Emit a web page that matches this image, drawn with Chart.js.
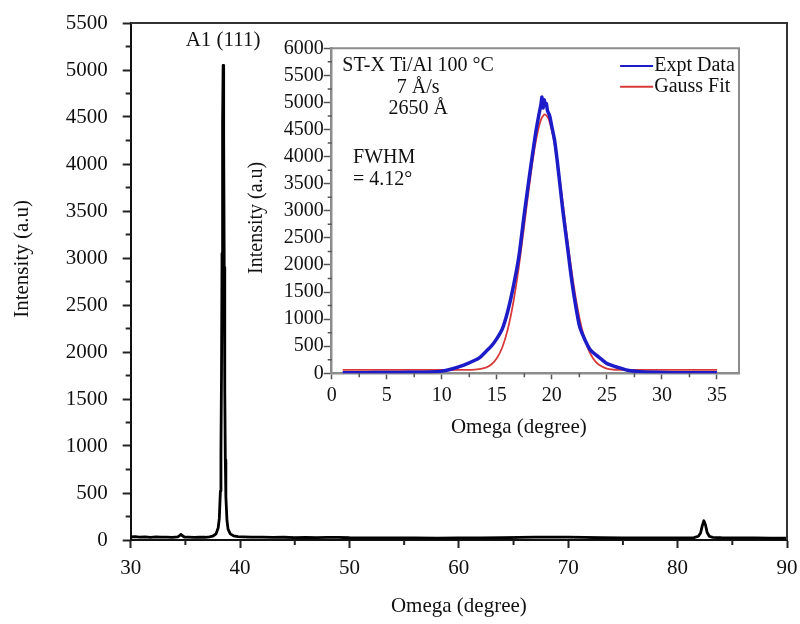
<!DOCTYPE html>
<html><head><meta charset="utf-8">
<script src="https://cdn.jsdelivr.net/npm/chart.js@4.4.0/dist/chart.umd.min.js"></script>
<style>
html,body{margin:0;padding:0;background:#fff;}
#wrap{position:relative;width:800px;height:624px;overflow:hidden;background:#fff;}
#main{position:absolute;left:0;top:0;}
#inset{position:absolute;left:245px;top:38px;}
</style></head><body>
<div id="wrap"><canvas id="main" width="800" height="624"></canvas><canvas id="inset" width="505" height="405"></canvas></div>
<script>
// ---------- main pattern (Omega scan, wide range) ----------
const mainOmega = [30, 30.4, 30.8, 31.3, 31.8, 32.3, 32.8, 33.3, 33.8, 34.3, 34.5, 34.6, 34.7, 34.9, 35.3, 35.8, 36.3, 36.8, 37.2, 37.5, 37.8, 38.0, 38.1, 38.2, 38.25, 38.3, 38.35, 38.4, 38.45, 38.5, 38.55, 38.6, 38.65, 38.7, 38.8, 38.9, 39.1, 39.4, 39.8, 40.3, 41, 42, 43, 44, 45, 46, 47, 48, 49, 50, 52, 54, 56, 58, 60, 62, 64, 65.5, 67, 68.5, 70, 71.5, 73, 75, 77, 79, 80.5, 81.5, 81.9, 82.1, 82.25, 82.4, 82.55, 82.7, 82.9, 83.2, 84, 85.5, 87, 88.5, 90];
const mainIntensity = [32, 35, 30, 34, 29, 33, 30, 31, 28, 33, 50, 60, 48, 32, 30, 28, 31, 29, 33, 40, 65, 130, 230, 520, 950, 1750, 3050, 4450, 5050, 4300, 2900, 1600, 850, 460, 210, 115, 65, 45, 36, 33, 30, 31, 27, 29, 26, 28, 25, 27, 28, 24, 23, 22, 22, 21, 22, 22, 24, 27, 30, 31, 30, 28, 24, 23, 22, 22, 23, 25, 40, 75, 150, 205, 160, 80, 40, 28, 24, 22, 22, 21, 21];
const mainXTicks = [30, 40, 50, 60, 70, 80, 90];
const mainYTicks = [0, 500, 1000, 1500, 2000, 2500, 3000, 3500, 4000, 4500, 5000, 5500];
const mainXTitle = 'Omega (degree)';
const mainYTitle = 'Intensity (a.u)';
const peakLabel = 'A1 (111)';

// ---------- inset: rocking curve ----------
const exptOmega = [1, 3, 5, 7, 9, 10, 11, 12, 13, 13.5, 14, 14.5, 15, 15.5, 16, 16.5, 17, 17.5, 18, 18.5, 18.8, 19.0, 19.1, 19.2, 19.3, 19.4, 19.5, 19.6, 19.8, 20, 20.25, 20.5, 20.75, 21, 21.25, 21.5, 21.75, 22, 22.5, 23, 23.5, 24, 24.5, 25, 25.5, 26, 27, 28, 29, 30, 32, 35];
const exptIntensity = [10, 12, 15, 18, 25, 40, 85, 150, 240, 300, 400, 500, 640, 820, 1150, 1600, 2150, 2950, 3700, 4400, 4750, 4950, 5100, 4900, 5050, 4950, 4980, 4850, 4750, 4550, 4300, 3900, 3450, 3000, 2600, 2200, 1800, 1450, 880, 620, 430, 340, 260, 180, 140, 110, 50, 30, 20, 15, 10, 8];
const fitOmega = [1, 5, 10, 12, 13, 14, 14.5, 15, 15.5, 16, 16.5, 17, 17.5, 18, 18.5, 19, 19.37, 19.75, 20.25, 20.75, 21.25, 21.75, 22.25, 22.75, 23.25, 23.75, 24.25, 25, 26, 28, 35];
const fitIntensity = [62, 62, 62, 62, 67, 105, 163, 277, 480, 815, 1308, 1966, 2744, 3546, 4237, 4676, 4780, 4671, 4225, 3532, 2728, 1953, 1297, 806, 475, 273, 161, 88, 64, 62, 62];
const insetXTicks = [0, 5, 10, 15, 20, 25, 30, 35];
const insetYTicks = [0, 500, 1000, 1500, 2000, 2500, 3000, 3500, 4000, 4500, 5000, 5500, 6000];
const seriesNames = ['Expt Data', 'Gauss Fit'];
const sampleNotes = ['ST-X Ti/Al 100 °C', '7 Å/s', '2650 Å'];
const fwhmNotes = ['FWHM', '= 4.12°'];
const insetXTitle = 'Omega (degree)';
const insetYTitle = 'Intensity (a.u)';

const SERIF = "'Liberation Serif','Times New Roman',serif";
const toPts = (xs, ys) => xs.map((x, i) => ({x, y: ys[i]}));
const plain = v => String(v);
const noPad = s => { s.paddingLeft = 0; s.paddingRight = 0; s.paddingTop = 0; s.paddingBottom = 0; };

function drawMinor(chart, id, step, len, color, width) {
  const s = chart.scales[id], ctx = chart.ctx, ca = chart.chartArea;
  ctx.save(); ctx.strokeStyle = color; ctx.lineWidth = width; ctx.beginPath();
  for (let v = s.min; v <= s.max + 1e-9; v += step) {
    if (s.ticks.some(t => Math.abs(t.value - v) < 1e-6)) continue;
    const p = s.getPixelForValue(v);
    if (s.isHorizontal()) { ctx.moveTo(p, ca.bottom); ctx.lineTo(p, ca.bottom + len); }
    else { ctx.moveTo(ca.left, p); ctx.lineTo(ca.left - len, p); }
  }
  ctx.stroke(); ctx.restore();
}
function text(ctx, str, x, y, size, align, rot) {
  ctx.save(); ctx.font = size + 'px ' + SERIF; ctx.fillStyle = '#111';
  ctx.textAlign = align || 'center'; ctx.textBaseline = 'middle';
  ctx.translate(x, y); if (rot) ctx.rotate(rot); ctx.fillText(str, 0, 0); ctx.restore();
}

const mainPlugin = {
  id: 'mainDecor',
  afterDraw(chart) {
    const ctx = chart.ctx, ca = chart.chartArea, xs = chart.scales.x, ys = chart.scales.y;
    drawMinor(chart, 'x', 5, 5, '#222', 2);
    drawMinor(chart, 'y', 250, 5, '#222', 2);
    ctx.save(); ctx.strokeStyle = '#333'; ctx.lineWidth = 2; ctx.beginPath();
    ctx.moveTo(ca.left, ca.top); ctx.lineTo(ca.right, ca.top); ctx.lineTo(ca.right, ca.bottom); ctx.stroke(); ctx.restore();
    text(ctx, mainYTitle, ca.left - 108, ys.getPixelForValue(2990), 21, 'center', -Math.PI / 2);
    text(ctx, mainXTitle, xs.getPixelForValue(60), ca.bottom + 66, 21, 'center');
    text(ctx, peakLabel, xs.getPixelForValue(38.45), ys.getPixelForValue(5310), 21, 'center');
  }
};

new Chart(document.getElementById('main'), {
  type: 'line',
  data: { datasets: [{ data: toPts(mainOmega, mainIntensity), borderColor: '#000', borderWidth: 2.8, borderJoinStyle: 'round', borderCapStyle: 'round', pointRadius: 0, tension: 0, fill: false }] },
  options: {
    responsive: false, animation: false, devicePixelRatio: 1, events: [],
    layout: { padding: { top: 23, right: 13, left: 0, bottom: 0 } },
    plugins: { legend: { display: false }, tooltip: { enabled: false } },
    scales: {
      x: { type: 'linear', min: 30, max: 90,
        afterBuildTicks: s => { s.ticks = mainXTicks.map(v => ({value: v})); },
        afterFit: s => { s.height = 84; noPad(s); },
        border: { display: true, color: '#111', width: 2 },
        grid: { display: true, drawOnChartArea: false, drawTicks: true, tickLength: 8, tickColor: '#222', tickWidth: 2 },
        ticks: { color: '#111', font: { family: SERIF, size: 21 }, padding: 8, maxRotation: 0, autoSkip: false, callback: plain } },
      y: { type: 'linear', min: 0, max: 5500,
        afterBuildTicks: s => { s.ticks = mainYTicks.map(v => ({value: v})); },
        afterFit: s => { s.width = 130.7; noPad(s); },
        border: { display: true, color: '#111', width: 2 },
        grid: { display: true, drawOnChartArea: false, drawTicks: true, tickLength: 8, tickColor: '#222', tickWidth: 2 },
        ticks: { color: '#111', font: { family: SERIF, size: 21 }, padding: 15, autoSkip: false, callback: plain } }
    }
  },
  plugins: [mainPlugin]
});

const insetPlugin = {
  id: 'insetDecor',
  afterDraw(chart) {
    const ctx = chart.ctx, ca = chart.chartArea, xs = chart.scales.x, ys = chart.scales.y;
    drawMinor(chart, 'x', 2.5, 4, '#555', 1.5);
    drawMinor(chart, 'y', 250, 4, '#555', 1.5);
    ctx.save(); ctx.strokeStyle = '#8c8c8c'; ctx.lineWidth = 2; ctx.beginPath();
    ctx.moveTo(ca.left, ca.top); ctx.lineTo(ca.right, ca.top); ctx.lineTo(ca.right, ca.bottom); ctx.stroke(); ctx.restore();
    text(ctx, sampleNotes[0], xs.getPixelForValue(7.85), ys.getPixelForValue(5673), 20, 'center');
    text(ctx, sampleNotes[1], xs.getPixelForValue(7.85), ys.getPixelForValue(5265), 20, 'center');
    text(ctx, sampleNotes[2], xs.getPixelForValue(7.85), ys.getPixelForValue(4878), 20, 'center');
    text(ctx, fwhmNotes[0], xs.getPixelForValue(1.94), ys.getPixelForValue(3975), 20, 'left');
    text(ctx, fwhmNotes[1], xs.getPixelForValue(1.94), ys.getPixelForValue(3568), 20, 'left');
    const colors = [chart.data.datasets[0].borderColor, chart.data.datasets[1].borderColor];
    const rows = [5673, 5290];
    rows.forEach((v, i) => {
      const y = ys.getPixelForValue(v);
      ctx.save(); ctx.strokeStyle = colors[i]; ctx.lineWidth = 2; ctx.beginPath();
      ctx.moveTo(xs.getPixelForValue(26.2), y); ctx.lineTo(xs.getPixelForValue(29.2), y); ctx.stroke(); ctx.restore();
      text(ctx, seriesNames[i], xs.getPixelForValue(29.3), y, 20, 'left');
    });
    text(ctx, insetXTitle, xs.getPixelForValue(17), ca.bottom + 54, 21, 'center');
    text(ctx, insetYTitle, ca.left - 75, ys.getPixelForValue(2870), 20, 'center', -Math.PI / 2);
  }
};

new Chart(document.getElementById('inset'), {
  type: 'line',
  data: { datasets: [
    { label: seriesNames[0], data: toPts(exptOmega, exptIntensity), borderColor: '#1c1cc8', borderWidth: 3.5, borderJoinStyle: 'round', pointRadius: 0, tension: 0.2, fill: false },
    { label: seriesNames[1], data: toPts(fitOmega, fitIntensity), borderColor: '#d83a3a', borderWidth: 1.8, pointRadius: 0, tension: 0.3, fill: false }
  ] },
  options: {
    responsive: false, animation: false, devicePixelRatio: 1, events: [],
    layout: { padding: { top: 10.3, right: 11, left: 0, bottom: 0 } },
    plugins: { legend: { display: false }, tooltip: { enabled: false } },
    scales: {
      x: { type: 'linear', min: 0, max: 37,
        afterBuildTicks: s => { s.ticks = insetXTicks.map(v => ({value: v})); },
        afterFit: s => { s.height = 69.7; noPad(s); },
        border: { display: true, color: '#8c8c8c', width: 2.5 },
        grid: { display: true, drawOnChartArea: false, drawTicks: true, tickLength: 6, tickColor: '#555', tickWidth: 1.5 },
        ticks: { color: '#111', font: { family: SERIF, size: 20 }, padding: 4, maxRotation: 0, autoSkip: false, callback: plain } },
      y: { type: 'linear', min: 0, max: 6000,
        afterBuildTicks: s => { s.ticks = insetYTicks.map(v => ({value: v})); },
        afterFit: s => { s.width = 86.7; noPad(s); },
        border: { display: true, color: '#8c8c8c', width: 2.5 },
        grid: { display: true, drawOnChartArea: false, drawTicks: true, tickLength: 8, tickColor: '#555', tickWidth: 1.5 },
        ticks: { color: '#111', font: { family: SERIF, size: 20 }, padding: 0, autoSkip: false, callback: plain } }
    }
  },
  plugins: [insetPlugin]
});
</script>
</body></html>
